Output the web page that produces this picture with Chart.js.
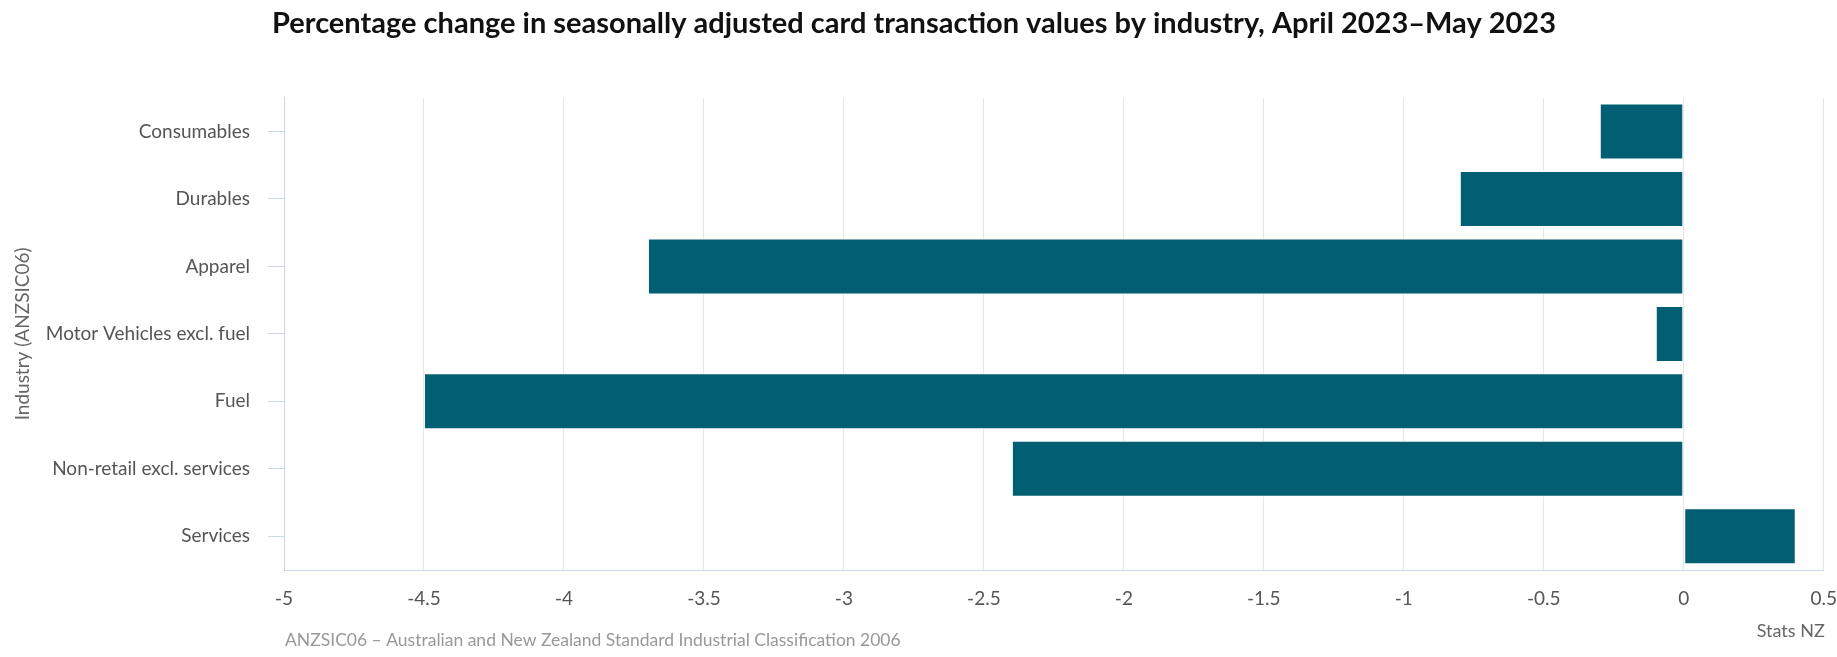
<!DOCTYPE html>
<html>
<head>
<meta charset="utf-8">
<script src="https://cdn.jsdelivr.net/npm/chart.js@4.4.1/dist/chart.umd.min.js"></script>
<style>
    html, body { margin: 0; padding: 0; background: #fff; overflow: hidden; }
    canvas { display: block; }
</style>
</head>
<body>
<canvas id="cardChart" width="1837" height="657"></canvas>
<script>
const industries = [
    "Consumables",
    "Durables",
    "Apparel",
    "Motor Vehicles excl. fuel",
    "Fuel",
    "Non-retail excl. services",
    "Services",
];
const pctChange = [-0.3, -0.8, -3.7, -0.1, -4.5, -2.4, 0.4];
const xTicks = [-5, -4.5, -4, -3.5, -3, -2.5, -2, -1.5, -1, -0.5, 0, 0.5];

const titleText = "Percentage change in seasonally adjusted card transaction values by industry, April 2023\u2013May 2023";
const captionText = "ANZSIC06 \u2013 Australian and New Zealand Standard Industrial Classification 2006";
const creditText = "Stats NZ";

const FONT = "Lato, 'Open Sans', sans-serif";

// caption bottom-left and credit bottom-right
const footerText = {
    id: "footerText",
    afterDraw(chart) {
        const ctx = chart.ctx;
        const area = chart.chartArea;
        ctx.save();
        ctx.textBaseline = "middle";
        ctx.font = "17.5px " + FONT;
        ctx.fillStyle = "#999999";
        ctx.textAlign = "left";
        ctx.fillText(captionText, area.left + 1, 640);
        ctx.font = "18px " + FONT;
        ctx.fillStyle = "#666666";
        ctx.textAlign = "right";
        ctx.fillText(creditText, area.right + 1, 631);
        ctx.restore();
    }
};

const ctx = document.getElementById("cardChart");

new Chart(ctx, {
    type: "bar",
    data: {
        labels: industries,
        datasets: [{
            data: pctChange,
            backgroundColor: "#025f73",
            borderColor: "#ffffff",
            borderWidth: 1,
            borderSkipped: false,
            categoryPercentage: 1,
            barPercentage: 0.83,
        }],
    },
    options: {
        indexAxis: "y",
        responsive: false,
        animation: false,
        devicePixelRatio: 1,
        layout: {
            padding: { left: 0, right: 9, top: 0, bottom: 0 }
        },
        plugins: {
            legend: { display: false },
            tooltip: { enabled: false },
            title: {
                display: true,
                text: titleText,
                color: "#111111",
                font: { family: FONT, size: 29, weight: "bold" },
                padding: { top: 6, bottom: 57 },
            },
        },
        scales: {
            x: {
                type: "linear",
                min: -5,
                max: 0.5,
                afterBuildTicks(scale) {
                    scale.ticks = xTicks.map(v => ({ value: v }));
                },
                afterFit(scale) {
                    scale.height = 87;
                },
                grid: {
                    color: "#e6e6e6",
                    drawTicks: true,
                    tickLength: 17,
                    tickColor: "rgba(0,0,0,0)",
                },
                border: { color: "#ccd6eb", width: 1 },
                ticks: {
                    color: "#555555",
                    padding: 0,
                    font: { family: FONT, size: 19 },
                    callback: v => String(v),
                },
            },
            y: {
                afterFit(scale) {
                    scale.width = 284;
                },
                grid: {
                    drawOnChartArea: false,
                    drawTicks: true,
                    offset: false,
                    tickLength: 16,
                    tickColor: "#ccd6eb",
                },
                border: { color: "#ccd6eb", width: 1 },
                ticks: {
                    color: "#555555",
                    padding: 18,
                    font: { family: FONT, size: 19 },
                },
                title: {
                    display: true,
                    text: "Industry (ANZSIC06)",
                    color: "#666666",
                    font: { family: FONT, size: 19 },
                    padding: { top: 11, bottom: 0 },
                },
            },
        },
    },
    plugins: [footerText],
});
</script>
</body>
</html>
